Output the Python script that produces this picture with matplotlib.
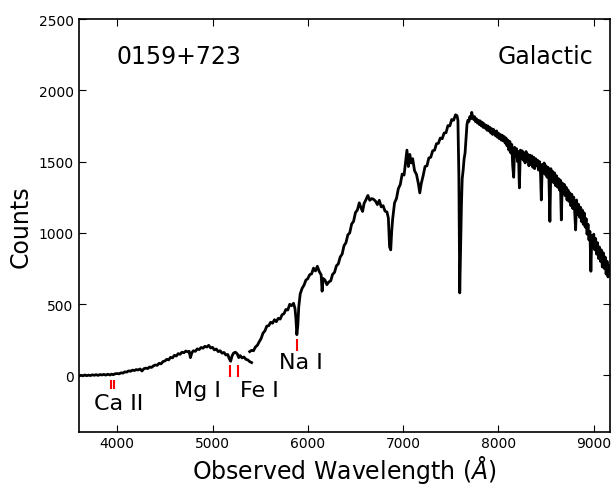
import matplotlib
matplotlib.use("Agg")
import matplotlib.pyplot as plt
import numpy as np

# Blue arm of the spectrum (wavelength in Angstrom, counts)
blue_wave = [3600, 3620, 3640, 3660, 3680, 3700, 3720, 3740, 3760, 3780,
             3800, 3820, 3840, 3860, 3880, 3900, 3925, 3940, 3960, 3975,
             4000, 4020, 4040, 4060, 4080, 4100, 4120, 4140, 4160, 4180,
             4200, 4220, 4240, 4260, 4280, 4300, 4320, 4340, 4360, 4380,
             4400, 4420, 4440, 4460, 4480, 4500, 4520, 4540, 4560, 4580,
             4600, 4620, 4640, 4660, 4680, 4700, 4720, 4740, 4755, 4768,
             4785, 4800, 4820, 4840, 4860, 4880, 4900, 4920, 4940, 4960,
             4980, 5000, 5020, 5040, 5060, 5080, 5100, 5120, 5140, 5160,
             5175, 5190, 5205, 5220, 5240, 5260, 5275, 5290, 5310, 5330,
             5350, 5370, 5390, 5410]
blue_counts = [-5, 0, -4, 2, -3, 1, -2, 3, 0, 4,
               -1, 5, 2, 6, 1, 7, 2, 8, 4, 10,
               12, 10, 17, 15, 24, 22, 31, 28, 36, 33,
               40, 37, 44, 30, 46, 50, 47, 58, 55, 66,
               72, 70, 84, 80, 96, 100, 112, 108, 126, 122,
               140, 135, 152, 147, 162, 158, 170, 164, 168, 124,
               160, 172, 168, 185, 180, 195, 190, 203, 198, 210,
               192, 196, 178, 184, 166, 172, 155, 160, 142, 146,
               118, 98, 135, 155, 162, 150, 124, 138, 122, 128,
               112, 108, 96, 89]

# Red arm of the spectrum
red_wave = [5390, 5410, 5430, 5450, 5470, 5490, 5510, 5530, 5550, 5570,
            5590, 5610, 5630, 5650, 5670, 5690, 5710, 5730, 5750, 5770,
            5790, 5810, 5830, 5850, 5865, 5875, 5885, 5895, 5905, 5920,
            5940, 5960, 5980, 6000, 6020, 6040, 6060, 6080, 6100, 6120,
            6140, 6150, 6160, 6180, 6200, 6220, 6240, 6260, 6280, 6300,
            6320, 6340, 6360, 6380, 6400, 6420, 6440, 6460, 6480, 6500,
            6520, 6540, 6560, 6575, 6590, 6610, 6630, 6650, 6670, 6690,
            6710, 6730, 6750, 6770, 6790, 6810, 6830, 6845, 6858, 6870,
            6880, 6890, 6910, 6930, 6950, 6970, 6990, 7010, 7030, 7040,
            7055, 7070, 7085, 7100, 7120, 7140, 7160, 7175, 7190, 7210,
            7230, 7250, 7270, 7290, 7310, 7330, 7350, 7370, 7390, 7410,
            7430, 7450, 7470, 7490, 7510, 7530, 7550, 7565, 7575, 7585,
            7594, 7603, 7612, 7620, 7630, 7640, 7650, 7660, 7670, 7680,
            7690, 7700, 7710, 7720, 7730, 7740, 7750, 7760, 7770, 7780,
            7790, 7800, 7810, 7820, 7830, 7840, 7850, 7860, 7870, 7880,
            7890, 7900, 7910, 7920, 7930, 7940, 7950, 7960, 7970, 7980,
            7990, 8000, 8010, 8020, 8030, 8040, 8050, 8060, 8070, 8080,
            8090, 8100, 8110, 8120, 8130, 8140, 8150, 8160, 8170, 8180,
            8190, 8200, 8210, 8220, 8230, 8240, 8250, 8260, 8270, 8280,
            8290, 8300, 8310, 8320, 8330, 8340, 8350, 8360, 8370, 8380,
            8390, 8400, 8410, 8420, 8430, 8440, 8450, 8460, 8470, 8480,
            8490, 8500, 8510, 8520, 8530, 8540, 8550, 8560, 8570, 8580,
            8590, 8600, 8610, 8620, 8630, 8640, 8650, 8660, 8670, 8680,
            8690, 8700, 8710, 8720, 8730, 8740, 8750, 8760, 8770, 8780,
            8790, 8800, 8810, 8820, 8830, 8840, 8850, 8860, 8870, 8880,
            8890, 8900, 8910, 8920, 8930, 8940, 8950, 8960, 8970, 8980,
            8990, 9000, 9010, 9020, 9030, 9040, 9050, 9060, 9070, 9080,
            9090, 9100, 9110, 9120, 9130, 9140, 9150, 9160, 9170]
red_counts = [166, 175, 172, 198, 210, 235, 258, 296, 312, 345,
              348, 372, 365, 390, 376, 400, 394, 425, 432, 462,
              458, 498, 488, 505, 470, 400, 285, 350, 480, 570,
              610, 632, 668, 678, 706, 712, 752, 732, 765, 728,
              705, 590, 680, 668, 636, 655, 662, 708, 722, 768,
              782, 830, 850, 910, 930, 985, 1000, 1062, 1080, 1142,
              1160, 1210, 1172, 1150, 1205, 1232, 1262, 1228, 1240, 1235,
              1222, 1198, 1228, 1182, 1190, 1152, 1146, 1105, 900, 880,
              1010, 1095, 1210, 1240, 1310, 1338, 1412, 1405, 1520, 1580,
              1465, 1550, 1490, 1520, 1435, 1410, 1345, 1280, 1345, 1400,
              1465, 1470, 1525, 1530, 1575, 1580, 1625, 1628, 1665, 1660,
              1700, 1702, 1752, 1750, 1795, 1790, 1828, 1822, 1790, 1400,
              578, 880, 1200, 1380, 1440, 1520, 1560, 1660, 1760, 1790,
              1780, 1815, 1800, 1845, 1810, 1795, 1815, 1780, 1800, 1770,
              1790, 1760, 1785, 1750, 1775, 1740, 1765, 1735, 1755, 1720,
              1750, 1715, 1740, 1700, 1730, 1690, 1725, 1700, 1680, 1715,
              1670, 1700, 1660, 1690, 1650, 1685, 1645, 1675, 1630, 1665,
              1610, 1650, 1580, 1640, 1560, 1620, 1470, 1390, 1600, 1540,
              1590, 1500, 1570, 1315, 1580, 1520, 1575, 1510, 1560, 1490,
              1570, 1500, 1550, 1470, 1545, 1480, 1540, 1460, 1530, 1450,
              1520, 1470, 1510, 1440, 1500, 1450, 1230, 1480, 1420, 1490,
              1410, 1470, 1390, 1460, 1380, 1080, 1450, 1370, 1430, 1350,
              1420, 1330, 1400, 1320, 1380, 1300, 1370, 1090, 1350, 1280,
              1340, 1260, 1320, 1230, 1300, 1220, 1280, 1190, 1270, 1170,
              1250, 1150, 1020, 1230, 1130, 1200, 1110, 1180, 1080, 1160,
              1060, 1140, 1040, 1100, 990, 1060, 950, 1010, 730, 980,
              900, 990, 880, 960, 850, 930, 820, 900, 800, 880,
              760, 860, 750, 830, 710, 800, 690, 770, 700]

# Line identifications: wavelength, tick span, label text and where it goes
ca_lines = [3934, 3968]
mgfe_lines = [5183, 5270]
na_lines = [5890]
line_labels = ["Ca II", "Mg I", "Fe I", "Na I"]
label_pos = [(3755, -235), (4600, -148), (5290, -148), (5700, 52)]

fig = plt.figure(figsize=(6.13, 4.89), dpi=100)
ax = fig.add_axes([0.129, 0.114, 0.866, 0.845])

ax.plot(blue_wave, blue_counts, color="black", linewidth=2)
ax.plot(red_wave, red_counts, color="black", linewidth=2)

# Red tick marks for the absorption lines
ax.vlines(ca_lines, -95, -35, color="red", linewidth=1.5)
ax.vlines(mgfe_lines, -10, 75, color="red", linewidth=1.5)
ax.vlines(na_lines, 170, 255, color="red", linewidth=1.5)

for text, (x, y) in zip(line_labels, label_pos):
    ax.text(x, y, text, fontsize=16, ha="left", va="baseline")

ax.text(3990, 2190, "0159+723", fontsize=17, ha="left", va="baseline")
ax.text(7990, 2190, "Galactic", fontsize=17, ha="left", va="baseline")

ax.set_xlim(3600, 9170)
ax.set_ylim(-400, 2500)
ax.set_xticks(np.arange(4000, 9001, 1000))
ax.set_yticks(np.arange(0, 2501, 500))
ax.tick_params(direction="in", top=True, right=True, length=5, labelsize=10)
ax.tick_params(axis="x", pad=3)
ax.tick_params(axis="y", pad=4)
for s in ax.spines.values():
    s.set_linewidth(1.2)

ax.set_xlabel(r"Observed Wavelength ($\AA$)", fontsize=17, labelpad=2)
ax.set_ylabel("Counts", fontsize=17)

fig.savefig("out.png", dpi=100)
